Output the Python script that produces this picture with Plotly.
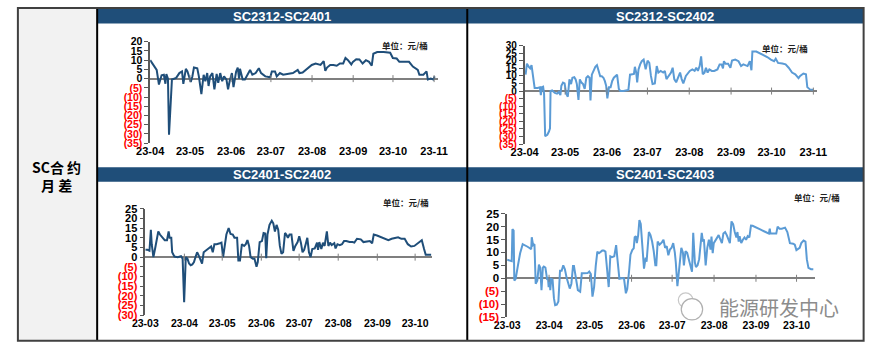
import plotly.graph_objects as go
import pandas as pd

W, H = 878, 352

# ---------------- data (day offsets from base date, values in 元/桶) ----------------
base_a = "2023-04-01"
days_a = [0, 4.9, 6.6, 8.6, 10.3, 11.5, 12.2, 13.4, 14.2, 16.4, 19.6, 22, 24, 25, 26.9, 28.1, 30.6, 31.8, 33, 35.5,
          36.7, 38.6, 40.3, 41.6, 43, 44, 45.2, 46.9, 48.4, 50.1, 51.3, 52.8, 54.3, 55.7, 57.5, 58.7, 59.9, 61.6, 62.8, 64.8,
          66, 67, 67.7, 69.7, 71.4, 73.8, 75.3, 77, 79.5, 81.9, 83.6, 86.8, 90.5, 91.7, 94.1, 95.4, 97.8, 100.2, 103.9, 107.6,
          111.2, 112.5, 114.9, 118.6, 121.8, 124.7, 128.4, 130.8, 132, 133.3, 135.7, 138.1, 140.6, 143, 145.5, 147.2, 149.1,
          151.6, 152.8, 155.3, 157.7, 160.1, 162.6, 165, 167, 168.2, 171.1, 176, 180.9, 182.9, 185.8, 187.8, 190.7, 193.2,
          195.1, 198, 201.7, 202.9, 205.9, 208.3, 209.3, 211.5, 213.4, 214.4]
vals_a = [10, 4.7, -3.2, 1.8, 2.1, -2.8, 2.5, 0, -30.4, -0.5, 0.4, 3, 3.9, -2.8, 5.3, 3.9, -1.8, 1.2, 6, 5.6,
          1.2, -8.4, 2.1, -1.4, 3, -4, 1.2, 3, -5.8, 2.5, -2.3, 3, -1.4, 1.2, -0.5, -5.8, -1.4, 3, -4.6, 3.9,
          6, 0, 5.3, -0.5, -0.5, 3, 4.7, 2.1, 3, 5.6, 3, 1.2, 0.7, 3.9, 3.9, 1.2, 3, 2.1, 2.6, 3,
          4.7, 3, 3.3, 5.6, 7.4, 8.2, 7.4, 9.5, 4.2, 6, 7.4, 7.4, 7, 8.2, 8.2, 11.2, 10, 7.7, 9.1, 10.5,
          10.4, 8.2, 10, 9.1, 7, 13.5, 14.4, 14.4, 14, 11.2, 10.9, 9.1, 9.1, 8.8, 9.1, 6.5, 4.7, 2.1, 2.1, 3.9,
          -0.5, 0, -0.5, 1.2]

base_b = "2023-04-01"
days_b = [0.7, 1.7, 3.1, 4.1, 5.1, 5.5, 6.5, 7.4, 9.6, 11.3, 12, 12.7, 13.7, 14.4, 15.2, 16.8, 18, 18.8, 19.2, 20.4,
          22.4, 24, 25.3, 26.5, 27.2, 28.4, 29.6, 30.8, 32, 33.2, 34.4, 35.4, 36.8, 37.8, 38.7, 39.9, 40.9, 42.1, 43.3, 44.5,
          45.7, 46.9, 48.1, 48.8, 49.8, 51.2, 52.4, 53.6, 54.8, 56, 57.2, 58.4, 59.4, 60.4, 61.3, 62.5, 63.7, 64.9, 66.1, 67.3,
          68.5, 69.8, 70.9, 73.3, 75.8, 76.9, 78.1, 80, 81, 81.7,
          82.7, 83.4, 84.4, 85.6, 86.8, 88.2, 89.7, 91.1, 92.4, 93.6, 94.8, 96.5, 97.9, 99.1, 100.8, 102.7, 103.9, 105.1,
          106.8, 108.5, 109.7, 110.9, 112.3, 113.5, 115.2, 116.4, 117.6, 119.5, 121.2, 122.4, 124.3, 126, 127.2, 128.4,
          129.7, 130.8, 132, 133.3, 134.4, 135.6, 136.9, 138.7, 140.5, 142.9, 144.5, 146, 147, 147.7, 148.9, 150.8,
          152.5, 153.7, 156.1, 158.5, 160.4, 162.1, 165.2, 166.9, 168.1, 168.8, 171.7, 174.1, 177.7, 180.1, 182.5,
          184.9, 186.1, 187.8, 191, 193.4, 195.7, 198.2, 200.6, 203, 204.2, 206.6, 208.5, 209.5, 211.4, 213.8]
vals_b = [10.8, 18.1, 16, 15, 17.1, 14, 7.7, 2.1, 2.1, 2.5, -2.7, 2.5, 2.9, -1.7, -29.8, -28.8, -26.7, -24.6, 0, 0.4,
          -1.2, -1.7, -0.6, -2.7, 3.5, 5.6, 5, -1.7, -3.7, 7.7, 4.6, 8.8, 9.2, 7.7, 4.6, -5.8, 7.7, 5.6, 4.6, 1.5,
          8.8, 9.8, 8.8, -6.2, 10.8, 14, 16, 17.1, 12.9, 9.8, 9.8, 8.8, 6.7, 3.5, -4.8, 2.5, 2.5, 6.7, 8.8, 9.8,
          10.8, 1.5, 0, 0, 0.4, 0.8, 10.8, 11.3, 11.3, 16,
          12.2, 5.8, 14.3, 17.6, 19.7, 20.8, 14.3, 20.1, 18.6, 10, 4.7, 5.1, 16.5, 12.2, 13.3, 12.2, 13.3, 7.9,
          10, 12.2, 15.4, 7.9, 5.8, 9, 12.2, 7.9, 5.1, 10, 12.2, 13.3, 14.3, 13.3, 15.4, 13.3,
          16.5, 22.9, 11.1, 12.2, 15.4, 12.2, 14.3, 13.3, 13.3, 14.3, 17.6, 17.6, 15, 19.7, 18, 18,
          15.4, 20.1, 20.8, 19.7, 16.5, 17.6, 16.5, 19.7, 13.7, 26.1, 26.1, 25, 23.6, 22.3, 20.8,
          19.7, 21.4, 18.6, 18.2, 17.6, 15.4, 12.2, 11.1, 8.6, 10, 11.6, 11.1, 2.6, 1.1, 0.9]

base_c = "2023-03-01"
days_c = [0, 1.8, 3.3, 4.4, 5.1, 6.4, 7.7, 9, 10.3, 11.6, 13.6, 15.4, 17.2, 18.5, 19.3, 20.6, 21.3, 23.1, 25.7, 28.3,
          29.6, 30.8, 32.1, 33.4, 34.7, 36, 37.3, 38.6, 39.8, 41.1, 42.4, 43.7, 45, 46.3, 47.6, 50.1, 52.2, 53.5, 54.8, 56.6,
          59.1, 60.4, 61.7, 63, 64.3, 66.1, 67.6, 69.4, 70.7, 72.8, 73.8, 75.1, 76.6, 78.4, 79.7, 81, 82.3, 83.5, 85.3, 86.6,
          88.2, 89.2, 90.7, 92.5, 93.8, 95.1, 95.9, 96.9, 98.5, 100.3, 101.5, 102.8, 104.1, 105.4, 106.7, 108, 109.3, 110.8,
          111.8, 113.1, 114.4, 115.9, 117.5, 119, 120.8, 122.1, 123.4, 124.7, 126, 127.2, 128.5, 129.8, 131.1, 132.4, 134.4,
          136.2, 137, 138, 139.6, 140.9, 142.2, 144, 145.2, 146.5, 147.8, 149.9, 150.9, 152.4, 154.2, 156, 157.6, 159.4,
          162, 164.5, 165.8, 167.9, 170.9, 173, 176.1, 178.1, 179.9, 181.2, 183.8, 186.4, 188.9, 192.8, 195.4, 197.9,
          200.5, 203.1, 205.7, 208.2, 210.8, 213.4, 216.7, 219.3, 221.1, 222.4, 224.4, 226.7]
vals_c = [3.8, 3.8, 3.3, 14.2, 6.7, 0, 4.2, 9.2, 13.3, 11.7, 10, 8.8, 8.8, 13.3, 10, 10, 2.5, 0.3, 0, 0.5,
          -0.8, -23.3, 0, -0.8, -3.3, -4.2, -3.8, -2.5, 0, 2.5, 0.8, -1.7, -3.3, 2.5, 3.3, 4.5, 5.5, 2.5, 6.7, 6.7,
          7.2, 7.5, 0, 7.5, 11.7, 15, 12, 11.7, 10, 10, -1.7, -1.7, 6.7, 5.8, 6.7, 8.8, 5.8, 0, -0.8, -0.8,
          -5, -2.5, 7.8, 8.3, 12.5, 12.2, -0.5, 11.7, 16.7, 18.8, 17.5, 13.3, 16.7, 14.2, 5.8, 1.7, 2.5, 12.5,
          11.7, 10, 11.7, 11.7, 3.3, 5.8, 7.8, 10.8, 7.5, 2.5, 3.8, 6.7, 10, 2.5, 0, 4.2, 4.5,
          7.5, 3.8, 7.8, 4.2, 7.5, 5.8, 13.3, 5.8, 7.5, 6.2, 7.2, 4.5, 6.7, 6.2, 6.7, 8.3, 8.3,
          7.8, 7.8, 7.5, 9.5, 9.2, 7.8, 8.3, 8.3, 7.2, 11.7, 11.2, 10.5, 9.5, 8.8, 9.5, 10,
          10.3, 9.5, 9.5, 6.7, 5.5, 5.8, 7.5, 8.8, 4.2, 1.2, 1.2, 1.2]

base_d = "2023-03-01"
days_d = [0, 1.9, 3.4, 3.9, 4.8, 5.3, 6.3, 7.9, 9.6, 11.5, 13.4, 15.1, 16.8, 17.8, 18.2, 19.2, 20.2, 21.1, 22.3, 23.5,
          24.5, 25.4, 26.4, 27.1, 28.3, 29.5, 30.2, 30.7, 31.4, 31.9, 32.6, 33.6, 34.6, 35.5, 36.7, 37.9, 39.1, 40.3, 41.5,
          42.7, 43.9, 45.1, 46.3, 47.5, 48.7, 49.4, 50.4, 52.3, 54, 55.2, 56.6, 58.3, 59.5, 60.7, 61.9, 63.1, 64.3, 65.5,
          66.7, 67.9, 69.1, 70.3, 71.5, 72.7, 73.9, 75.1, 76.3, 77.5, 79.2, 80.6, 81.6, 83, 84.7, 86.4, 87.8, 88.8, 90.2,
          91.2, 92.6, 93.6, 94.3,
          95.2, 95.9, 96.9, 97.8, 98.8, 100, 101.2, 102.4, 103.1, 104.8, 106, 107.2, 108.4, 109.6, 110.3, 111.3, 112.7,
          114.4, 115.6, 116.8, 118, 119.2, 120.4, 121.6, 122.8, 124, 124.7, 125.9, 127.1, 128.8, 130, 130.7, 131.9, 133.1,
          134.3, 135.5, 136.7, 137.6, 138.8, 139.6, 140.8, 142, 143.2, 143.9, 144.8, 145.5, 146.8, 148, 149.2, 150.4,
          151.1, 152, 152.8, 154, 155.2, 156.4, 157.6, 158.8, 159.9, 161.2, 162.4, 163.5, 164.7, 165.9, 167.1, 168.3,
          169.5, 170.3, 171.2, 171.9, 173.1, 174.3, 175.5, 176.7, 177.9, 179.1, 180.3, 181.5, 183.9, 187.5, 191.1, 193.5,
          194.2, 194.7, 197.1, 199, 200, 201.4, 203.1, 205.5, 207.2, 209.1, 211.5, 212.7, 213.9, 215.1, 216.3, 217.5,
          219.2, 220.6, 221.6, 222.8, 224.7, 226.4]
vals_d = [7.2, 7, 6.6, 19, 18.4, -0.9, -0.2, 4.7, 9.7, 13.2, 12.8, 12.2, 11.6, 11.2, 15.9, 12.8, 13.2, -2.1, -0.9, 5.3,
          4.1, -4.6, 4.1, 4.5, 4.1, -0.2, 0, -3.4, 0, -4.6, -0.2, -0.5, -7.7, -10.4, -10.2, -9, 2.9, 2.9, 5,
          3.5, 0.4, -2.1, -4, -2.1, 4.7, 4.7, 1.6, -4.6, -5.2, 1.9, 1.9, 2, 2, 2.6, 1.6, -7.1, -3.4, 4.7,
          10.3, 9.7, 10.3, 10.7, 10.7, 10.3, 3.5, -3.4, 8.5, 8.2, 8.5, 12.8, 7.2, -0.2, 0, 0, -5.8, -4.2, 2.9,
          9.1, 11, 11.6, 15.9,
          16.3, 13.6, 16.7, 22.5, 21, 12.4, 3.7, 8, 6.4, 17.9, 16.7, 14.2, 10.5, 5, 5, 14.2, 13,
          13.9, 14.9, 11.8, 12.4, 8.9, 11.1, 11.8, 13.6, 9.9, 6.2, -3.1, 2.5, 11.8, 9.9, 5, 10.5, 9.9,
          7.4, 4.3, 2.5, 17.6, 6.2, 4.3, 5, 7.4, 12.4, 17.6, 14.2, 15.1, 5, 11.8, 14.9, 11.1,
          16.1, 9.7, 13.6, 14.6, 15.8, 16.7, 15.1, 13.6, 17.3, 17.9, 16.7, 14.9, 13.6, 22, 21, 17.9,
          15.8, 17.9, 14.2, 16.3, 13.6, 14.9, 15.8, 14.9, 16.3, 15.8, 20.4, 20.3, 19.8, 18.8, 17.9, 17.3,
          19.2, 17.3, 17.3, 17.3, 20, 19.2, 19.2, 19.6, 17.9, 13.6, 13.4, 13, 10.9, 11.4, 11.8, 13.6,
          14.6, 14.2, 7.4, 4, 3.5, 3.5]

titles = ["SC2312-SC2401", "SC2312-SC2402", "SC2401-SC2402", "SC2401-SC2403"]
unit_text = "单位：元/桶"
side_label = "SC合 约<br>月 差"
watermark = "能源研发中心"

DARK = "#1f4e79"
LIGHT = "#5b9bd5"
BAR = "#1f4e79"

panels = [
    dict(base=base_a, days=days_a, vals=vals_a, color=DARK, xdom=(140, 436), xend="2023-11-04",
         ydom=(37, 142), yr=(-35, 20), unit=(402, 40), bar=(86, 466, 3, 18), xfs=11, yfs=10.5),
    dict(base=base_b, days=days_b, vals=vals_b, color=LIGHT, xdom=(525, 826), xend="2023-11-04",
         ydom=(41, 143), yr=(-35, 30), unit=(793, 43), bar=(466, 873, 3, 18), xfs=11, yfs=10),
    dict(base=base_c, days=days_c, vals=vals_c, color=DARK, xdom=(135, 430), xend="2023-10-14 14:00",
         ydom=(210, 320), yr=(-30, 25), unit=(403, 203), bar=(86, 466, 167, 182), xfs=10.5, yfs=11),
    dict(base=base_d, days=days_d, vals=vals_d, color=LIGHT, xdom=(507, 824), xend="2023-10-15",
         ydom=(215, 322), yr=(-15, 25), unit=(826, 198), bar=(466, 873, 167, 182), xfs=10.5, yfs=11.5),
]


def px(x):
    return x / W


def py(y):
    return 1 - y / H


fig = go.Figure()
layout = dict(width=W, height=H, margin=dict(l=0, r=0, t=0, b=0), paper_bgcolor="white",
              plot_bgcolor="rgba(0,0,0,0)", showlegend=False)
shapes = []
annotations = []

shapes.append(dict(type="rect", xref="paper", yref="paper", x0=px(4), x1=px(85.5), y0=py(346.5), y1=py(2),
                   fillcolor="#f2f2f2", line=dict(width=0), layer="below"))

label_font = "Liberation Sans, Arial"

for i, p in enumerate(panels):
    k = "" if i == 0 else str(i + 1)
    base = pd.Timestamp(p["base"])
    xs = [base + pd.Timedelta(days=d) for d in p["days"]]
    fig.add_trace(go.Scatter(x=xs, y=p["vals"], mode="lines", line=dict(color=p["color"], width=2),
                             xaxis="x" + k, yaxis="y" + k, hoverinfo="skip"))
    months = pd.date_range(base + pd.offsets.MonthBegin(1), pd.Timestamp(p["xend"]), freq="MS")
    fig.add_trace(go.Scatter(x=list(months), y=[0] * len(months), mode="markers",
                             marker=dict(symbol="line-ns", size=5, line=dict(color="#7f7f7f", width=1)),
                             xaxis="x" + k, yaxis="y" + k, hoverinfo="skip"))
    ymin, ymax = p["yr"]
    tv = list(range(ymax, ymin - 1, -5))
    tt = [str(v) if v >= 0 else f'<span style="color:#ff0000">({-v})</span>' for v in tv]
    layout["xaxis" + k] = dict(type="date", domain=[px(p["xdom"][0]), px(p["xdom"][1])],
                               range=[base, pd.Timestamp(p["xend"])], anchor="y" + k,
                               tickformat="%y-%m", dtick="M1", tick0=base, ticks="", showgrid=False,
                               zeroline=False, showline=False,
                               tickfont=dict(family=label_font, size=p["xfs"], color="#000", weight="bold"))
    layout["yaxis" + k] = dict(domain=[py(p["ydom"][1]), py(p["ydom"][0])], range=[ymin, ymax],
                               anchor="x" + k, tickvals=tv, ticktext=tt, showgrid=False,
                               showline=True, linecolor="#595959", linewidth=1.5, ticks="outside",
                               ticklen=4, tickcolor="#595959", tickwidth=1,
                               zeroline=True, zerolinecolor="#7f7f7f", zerolinewidth=1.5,
                               tickfont=dict(family=label_font, size=p["yfs"], color="#000", weight="bold"))
    x0, x1, y0, y1 = p["bar"]
    shapes.append(dict(type="rect", xref="paper", yref="paper", x0=px(x0), x1=px(x1), y0=py(y1), y1=py(y0),
                       fillcolor=BAR, line=dict(width=0), layer="above"))
    annotations.append(dict(xref="paper", yref="paper", x=px((x0 + x1) / 2), y=py((y0 + y1) / 2),
                            text=titles[i], showarrow=False, xanchor="center", yanchor="middle",
                            font=dict(family=label_font, size=13, color="white", weight="bold")))
    annotations.append(dict(xref="paper", yref="paper", x=px(p["unit"][0]), y=py(p["unit"][1]),
                            text=unit_text, showarrow=False, xanchor="center", yanchor="middle",
                            font=dict(family="Noto Sans CJK SC", size=8.5, color="#222", weight="bold")))

shapes.append(dict(type="line", xref="paper", yref="paper", x0=px(85.5), x1=px(85.5), y0=py(346.5), y1=py(2),
                   line=dict(color="#000", width=2)))
shapes.append(dict(type="line", xref="paper", yref="paper", x0=px(466), x1=px(466), y0=py(346.5), y1=py(2),
                   line=dict(color="#000", width=2)))
shapes.append(dict(type="rect", xref="paper", yref="paper", x0=px(4), x1=px(873.5), y0=py(346.5), y1=py(2),
                   line=dict(color="#404040", width=2), fillcolor="rgba(0,0,0,0)"))

shapes.append(dict(type="circle", xref="paper", yref="paper", x0=px(683), x1=px(698), y0=py(312), y1=py(297),
                   line=dict(color="#c8c8c8", width=1.2)))
shapes.append(dict(type="circle", xref="paper", yref="paper", x0=px(686), x1=px(708), y0=py(325), y1=py(303),
                   line=dict(color="#b0b0b0", width=1.2), fillcolor="white"))
annotations.append(dict(xref="paper", yref="paper", x=px(786), y=py(312), text=watermark, showarrow=False,
                        xanchor="center", yanchor="middle",
                        font=dict(family="Noto Sans CJK SC", size=20, color="#8c8c8c")))

annotations.append(dict(xref="paper", yref="paper", x=px(44), y=py(176), text=side_label, showarrow=False,
                        xanchor="center", yanchor="middle", align="center",
                        font=dict(family="Noto Sans CJK SC", size=14, color="#000", weight="bold")))

layout["shapes"] = shapes
layout["annotations"] = annotations
fig.update_layout(**layout)
fig.write_html("out.html")
